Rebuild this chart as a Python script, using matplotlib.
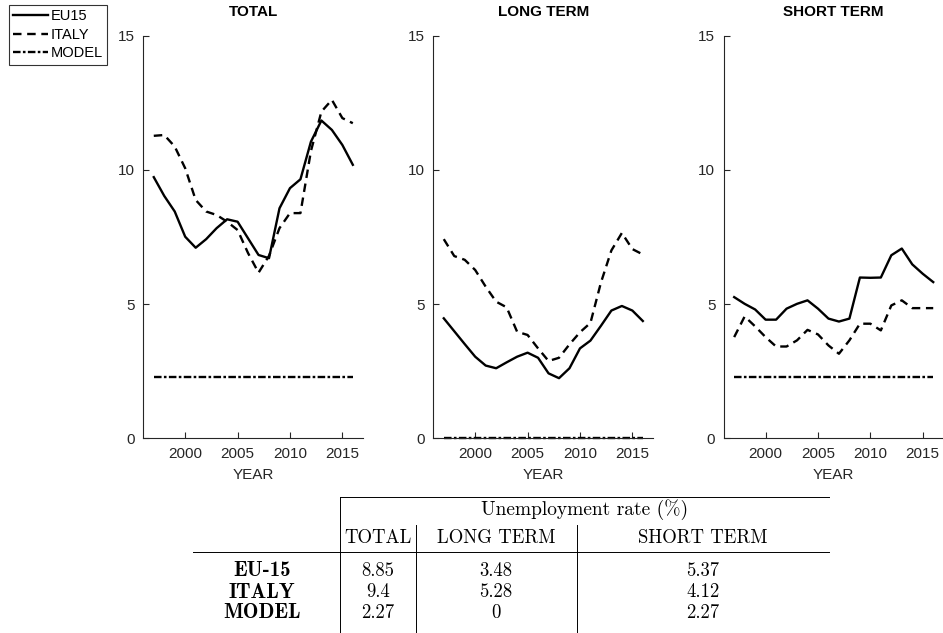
import matplotlib
matplotlib.use("Agg")
import matplotlib.pyplot as plt
from matplotlib.lines import Line2D

plt.rcParams["font.family"] = ["Liberation Sans", "DejaVu Sans"]

# ---------------------------------------------------------------- data
years = list(range(1997, 2017))

eu15_total = [9.73, 9.03, 8.45, 7.51, 7.10, 7.42, 7.83, 8.16, 8.07, 7.45,
              6.83, 6.71, 8.57, 9.32, 9.65, 11.05, 11.84, 11.49, 10.93, 10.19]
italy_total = [11.27, 11.30, 10.87, 10.06, 8.88, 8.45, 8.32, 8.07, 7.76, 6.90,
               6.17, 6.80, 7.83, 8.39, 8.39, 10.70, 12.17, 12.61, 11.93, 11.74]

eu15_long = [4.47, 3.99, 3.51, 3.04, 2.71, 2.61, 2.83, 3.04, 3.19, 3.00,
             2.42, 2.24, 2.61, 3.35, 3.64, 4.19, 4.76, 4.93, 4.76, 4.37]
italy_long = [7.42, 6.79, 6.65, 6.27, 5.65, 5.09, 4.88, 3.97, 3.85, 3.35,
              2.88, 3.00, 3.50, 3.95, 4.30, 5.80, 7.00, 7.65, 7.05, 6.85]

eu15_short = [5.26, 5.01, 4.80, 4.42, 4.42, 4.83, 5.01, 5.14, 4.83, 4.46,
              4.35, 4.46, 5.99, 5.98, 5.99, 6.82, 7.07, 6.48, 6.13, 5.82]
italy_short = [3.77, 4.54, 4.17, 3.77, 3.42, 3.42, 3.65, 4.04, 3.87, 3.46,
               3.15, 3.65, 4.27, 4.27, 4.02, 4.95, 5.14, 4.85, 4.85, 4.85]

model_total = 2.27
model_long = 0.0
model_short = 2.27

panel_titles = ["TOTAL", "LONG TERM", "SHORT TERM"]
series_labels = ["EU15", "ITALY", "MODEL"]

table_header = "Unemployment rate (%)"
table_columns = ["TOTAL", "LONG TERM", "SHORT TERM"]
table_rows = ["EU-15", "ITALY", "MODEL"]
table_eu15 = [8.85, 3.48, 5.37]
table_italy = [9.4, 5.28, 4.12]
table_model = [2.27, 0, 2.27]

# ---------------------------------------------------------------- layout
W, H = 943, 633
fig = plt.figure(figsize=(W / 100, H / 100), dpi=100)

AX_COLOR = "#262626"
LW = 1.7
style_eu = "-"
style_it = (0, (3.6, 2.4))
style_model = (0, (3.2, 1.0, 1.1, 1.0))


def px_rect(left, top, width, height):
    return [left / W, 1 - (top + height) / H, width / W, height / H]


panel_lefts = [143.3, 433.3, 723.7]
panel_top = 35.7
panel_w = 220.0
panel_h = 402.6

panels = [
    (eu15_total, italy_total, model_total),
    (eu15_long, italy_long, model_long),
    (eu15_short, italy_short, model_short),
]

for left, title, (eu, it, mod) in zip(panel_lefts, panel_titles, panels):
    ax = fig.add_axes(px_rect(left, panel_top, panel_w, panel_h))
    ax.plot(years, eu, color="black", lw=LW, ls=style_eu)
    ax.plot(years, it, color="black", lw=LW, ls=style_it)
    ax.plot(years, [mod] * len(years), color="black", lw=LW, ls=style_model,
            clip_on=False)
    ax.set_xlim(1996, 2017)
    ax.set_ylim(0, 15)
    ax.set_xticks([2000, 2005, 2010, 2015])
    ax.set_yticks([0, 5, 10, 15])
    for side in ("top", "right"):
        ax.spines[side].set_visible(False)
    for side in ("left", "bottom"):
        ax.spines[side].set_color(AX_COLOR)
        ax.spines[side].set_linewidth(0.8)
    ax.tick_params(direction="in", length=4, width=0.8, colors=AX_COLOR,
                   labelsize=11, pad=6)
    ax.set_title(title, fontweight="bold", fontsize=11, pad=14)
    ax.set_xlabel("YEAR", fontsize=11, color=AX_COLOR, labelpad=5)

# ---------------------------------------------------------------- legend
handles = [
    Line2D([], [], color="black", lw=LW, ls=style_eu),
    Line2D([], [], color="black", lw=LW, ls=style_it),
    Line2D([], [], color="black", lw=LW, ls=style_model),
]
leg = fig.legend(handles, series_labels, loc="upper left",
                 bbox_to_anchor=(9 / W, 1 - 5 / H), borderaxespad=0,
                 frameon=True, fancybox=False, edgecolor="black",
                 fontsize=10.5, handlelength=2.4, handletextpad=0.15,
                 borderpad=0.3, labelspacing=0.3)
leg.get_frame().set_linewidth(0.8)

# ---------------------------------------------------------------- table
tax = fig.add_axes([0, 0, 1, 1])
tax.set_xlim(0, W)
tax.set_ylim(H, 0)
tax.axis("off")

serif = "cmr10"
serif_bold = "cmb10"
size_header = 14
size_cols = 13.5
size_rows = 15
size_vals = 13.5

x_vline = 340
x_right = 829
x_left = 193
col_seps = [416, 577]
col_centers = [378, 496, 703]
row_label_x = 262

y_top = 497
y_header = 510
y_cols = 538
y_rule = 552
row_ys = [571, 592, 613]

tax.plot([x_vline, x_right], [y_top, y_top], color="black", lw=0.7)
tax.plot([x_left, x_right], [y_rule, y_rule], color="black", lw=0.7)
tax.plot([x_vline, x_vline], [y_top, H], color="black", lw=0.7)
for xs in col_seps:
    tax.plot([xs, xs], [525, H], color="black", lw=0.7)

tax.text((x_vline + x_right) / 2, y_header, table_header, family=serif,
         fontsize=size_header, ha="center", va="center")
for xc, label in zip(col_centers, table_columns):
    tax.text(xc, y_cols, label, family=serif, fontsize=size_cols,
             ha="center", va="center")

for y, label, values in zip(row_ys, table_rows,
                            [table_eu15, table_italy, table_model]):
    tax.text(row_label_x, y, label, family=serif_bold, fontsize=size_rows,
             ha="center", va="center")
    for xc, v in zip(col_centers, values):
        tax.text(xc, y, f"{v:g}", family=serif, fontsize=size_vals,
                 ha="center", va="center")

fig.savefig("out.png", dpi=100)
